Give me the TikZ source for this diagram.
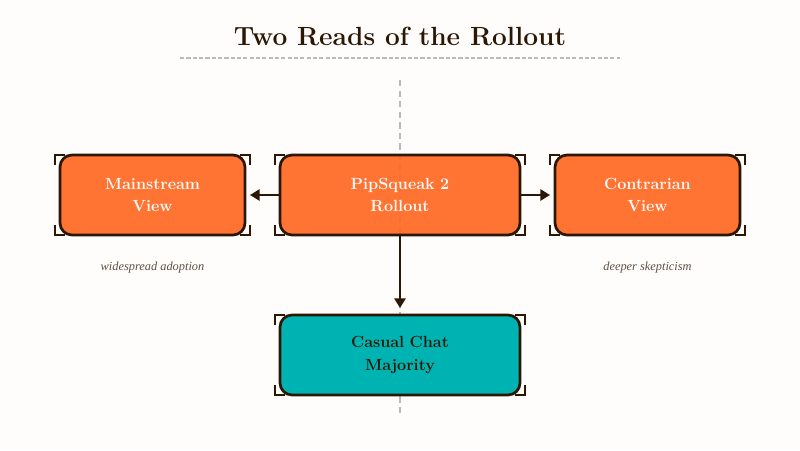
\documentclass[tikz,border=0pt]{standalone}
\usepackage{fontspec}
\newfontfamily\notefont{Liberation Serif}
\usetikzlibrary{arrows.meta, positioning}

\definecolor{paper}{HTML}{FFFDFB}
\definecolor{ink}{HTML}{2B1703}
\definecolor{guide}{HTML}{BDB9B6}
\definecolor{hotbox}{HTML}{FF6822}
\definecolor{coolbox}{HTML}{00B3B3}

\tikzset{
	hot/.style={draw=ink, line width=1.9pt, outer sep=0pt, rounded corners=0.3cm, fill=hotbox, fill opacity=0.92, text opacity=1, text=paper,
		minimum height=2cm, text width=4cm, align=center, font=\bfseries\fontsize{11.5}{16.2}\selectfont},
	wide/.style={hot, minimum width=6cm},
	side/.style={hot, minimum width=4.625cm},
	cool/.style={wide, fill=coolbox, fill opacity=1, text=ink},
	link/.style={draw=ink, line width=1.5pt, -{Triangle[length=0.24cm,width=0.28cm]}, shorten >=0.125cm},
	guideline/.style={draw=guide, line width=1.1pt, dash pattern=on 3pt off 1.5pt},
	axisline/.style={draw=guide, line width=1.5pt, dash pattern=on 4.5pt off 3pt},
	note/.style={font=\notefont\itshape\fontsize{8.8}{11}\selectfont, text=ink!75!paper},
	bracket/.style={draw=ink, line width=1.5pt}
}

\newcommand{\cornermarks}[1]{
	\draw[bracket] ([xshift=-0.125cm,yshift=-0.25cm]#1.north west) |- ++(0.25cm,0.25cm);
	\draw[bracket] ([xshift=0.125cm,yshift=-0.25cm]#1.north east) |- ++(-0.25cm,0.25cm);
	\draw[bracket] ([xshift=-0.125cm,yshift=0.25cm]#1.south west) |- ++(0.25cm,-0.25cm);
	\draw[bracket] ([xshift=0.125cm,yshift=0.25cm]#1.south east) |- ++(-0.25cm,-0.25cm);
}

\begin{document}
\begin{tikzpicture}[node distance=0.875cm]
	\fill[paper] (0,0) rectangle (20,11.25);
	\useasboundingbox (0,0) rectangle (20,11.25);

	\node[font=\bfseries\fontsize{18.7}{24}\selectfont, text=ink] (title) at (10,10.33) {Two Reads of the Rollout};
	\coordinate (ruleL) at (4.5,9.8);
	\coordinate (ruleR) at (15.5,9.8);
	\draw[guideline] (ruleL) -- (ruleR);

	\coordinate (axisT) at (10,9.25);
	\coordinate (axisB) at (10,0.85);
	\draw[axisline] (axisT) -- (axisB);

	\node[wide] (rollout) at (10,6.375) {PipSqueak 2\\Rollout};
	\node[side] (main) [left=of rollout] {Mainstream\\View};
	\node[side] (contra) [right=of rollout] {Contrarian\\View};
	\node[cool] (casual) [below=2cm of rollout] {Casual Chat\\Majority};

	\node[note] (n1) [below=0.55cm of main] {widespread adoption};
	\node[note] (n2) [below=0.55cm of contra] {deeper skepticism};

	\cornermarks{main}
	\cornermarks{rollout}
	\cornermarks{contra}
	\cornermarks{casual}

	\path[link] (rollout) -- (main);
	\path[link] (rollout) -- (contra);
	\path[link, shorten >=0.175cm] (rollout) -- (casual);
\end{tikzpicture}
\end{document}
